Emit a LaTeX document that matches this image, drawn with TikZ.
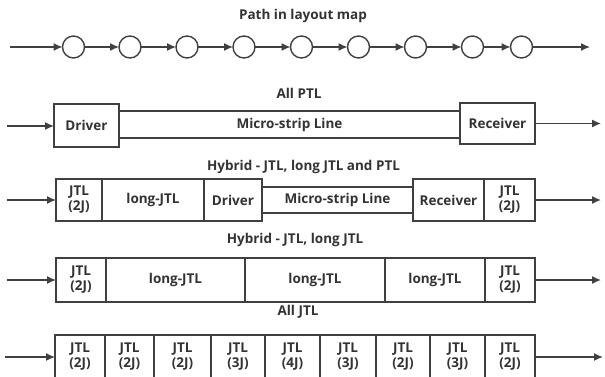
\documentclass[tikz,border=0pt]{standalone}
\usepackage{fontspec}
\setmainfont{Open Sans}
\usetikzlibrary{arrows.meta}
\definecolor{lc}{HTML}{404040}
\definecolor{tc}{HTML}{333333}
\newcommand{\lblfont}{\fontsize{13.5}{15}\selectfont\bfseries}
\tikzset{
  box/.style={draw=lc, line width=1.4pt, fill=white, inner sep=0pt, outer sep=0pt,
              align=center, font=\lblfont, text=tc},
  ttl/.style={font=\lblfont, text=tc, inner sep=0pt},
  circ/.style={draw=lc, line width=1.4pt, circle, minimum size=22pt, inner sep=0pt, outer sep=0pt},
  arr/.style={draw=lc, line width=1.4pt, -{Latex[length=9pt,width=8pt]}}
}
\newcommand{\blk}[6]{\node[box, minimum width={(#3)-(#2)}, minimum height={(#5)-(#4)}] (#1) at ({((#2)+(#3))/2},{((#4)+(#5))/2}) {#6};}
\begin{document}
\begin{tikzpicture}[x=1pt,y=-1pt]
\useasboundingbox (0,0) rectangle (605,376);
\clip (0,0) rectangle (605,376);
% Row 1
\node[ttl] (t1) at (303,16) {Path in layout map};
\coordinate (s1) at (10,47);
\coordinate (e1) at (590,47);
\foreach \i/\x in {1/73.5,2/130,3/187,4/244,5/301.5,6/358.5,7/415.5,8/472.5,9/521.5}{
  \node[circ] (c\i) at (\x,47) {};
}
\draw[arr] (s1) -- (c1);
\foreach \a/\b in {1/2,2/3,3/4,4/5,5/6,6/7,7/8,8/9}{
  \draw[arr] (c\a) -- (c\b);
}
\draw[arr] (c9) -- (e1);
% Row 2
\node[ttl] (t2) at (299,93) {All PTL};
\blk{ms2}{119}{460}{111}{138}{Micro-strip Line}
\blk{drv2}{54}{119}{104}{147}{Driver}
\blk{rcv2}{460}{535}{103}{144}{Receiver}
\coordinate (s2) at (7,126);
\coordinate (e2) at (601,123.5);
\draw[arr] (s2) -- (s2 -| drv2.west);
\draw[arr] (rcv2.east |- e2) -- (e2);
% Row 3
\node[ttl] (t3) at (303.5,167) {Hybrid - JTL, long JTL and PTL};
\blk{ms3}{262}{413}{187}{213}{Micro-strip Line}
\blk{j3a}{56}{102}{179}{221}{JTL\\(2J)}
\blk{l3}{102}{204}{179}{221}{long-JTL}
\blk{drv3}{204}{262}{179}{221}{Driver}
\blk{rcv3}{413}{484}{179}{221}{Receiver}
\blk{j3b}{484}{535}{179}{221}{JTL\\(2J)}
\coordinate (s3) at (7,200);
\coordinate (e3) at (601,200);
\draw[arr] (s3) -- (j3a);
\draw[arr] (j3b) -- (e3);
% Row 4
\node[ttl] (t4) at (295,240) {Hybrid - JTL, long JTL};
\blk{j4a}{56}{106}{258}{302}{JTL\\(2J)}
\blk{l4a}{106}{245}{258}{302}{long-JTL}
\blk{l4b}{245}{385}{258}{302}{long-JTL}
\blk{l4c}{385}{485}{258}{302}{long-JTL}
\blk{j4b}{485}{535}{258}{302}{JTL\\(2J)}
\coordinate (s4) at (7,280);
\coordinate (e4) at (601,280);
\draw[arr] (s4) -- (j4a);
\draw[arr] (j4b) -- (e4);
% Row 5
\node[ttl] (t5) at (298,312) {All JTL};
\blk{j5a}{55}{105}{335}{378}{JTL\\(2J)}
\blk{j5b}{105}{154}{335}{378}{JTL\\(2J)}
\blk{j5c}{154}{211}{335}{378}{JTL\\(2J)}
\blk{j5d}{211}{265}{335}{378}{JTL\\(3J)}
\blk{j5e}{265}{320}{335}{378}{JTL\\(4J)}
\blk{j5f}{320}{376}{335}{378}{JTL\\(3J)}
\blk{j5g}{376}{430}{335}{378}{JTL\\(2J)}
\blk{j5h}{430}{485}{335}{378}{JTL\\(3J)}
\blk{j5i}{485}{535}{335}{378}{JTL\\(2J)}
\coordinate (s5) at (5,357);
\coordinate (e5) at (603,357);
\draw[arr] (s5) -- (s5 -| j5a.west);
\draw[arr] (s5 -| j5i.east) -- (e5);
\end{tikzpicture}
\end{document}
